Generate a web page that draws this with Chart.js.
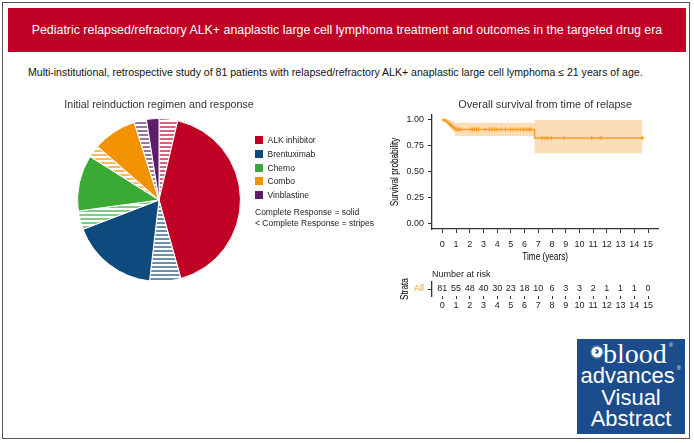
<!DOCTYPE html>
<html><head><meta charset="utf-8">
<script src="https://cdn.jsdelivr.net/npm/chart.js@4.4.1/dist/chart.umd.min.js"></script>
<style>
html,body{margin:0;padding:0;background:#fff;}
body{width:694px;height:443px;position:relative;overflow:hidden;font-family:'Liberation Sans',Arial,sans-serif;color:#222;}
.abs{position:absolute;white-space:nowrap;}
#frame{left:2px;top:2px;width:688px;height:437px;border:1.5px solid #555;box-sizing:border-box;}
#banner{left:8px;top:8px;width:678px;height:44px;background:#c10026;color:#fff;font-size:12.4px;display:flex;align-items:center;justify-content:center;}
#sub{left:28px;top:66px;font-size:10.55px;line-height:12px;color:#111;}
.sw{position:absolute;width:8px;height:8px;}
.lg{position:absolute;font-size:8.5px;line-height:10px;color:#222;}
#logo{left:577px;top:339px;width:108px;height:95px;background:#1c4c8c;}
.lt{position:absolute;color:#fff;line-height:1;white-space:nowrap;}
canvas{position:absolute;}
</style></head>
<body>
<div id="frame" class="abs"></div>
<div id="banner" class="abs">Pediatric relapsed/refractory ALK+ anaplastic large cell lymphoma treatment and outcomes in the targeted drug era</div>
<div id="sub" class="abs">Multi-institutional, retrospective study of 81 patients with relapsed/refractory ALK+ anaplastic large cell lymphoma ≤ 21 years of age.</div>

<canvas id="pie" width="240" height="196" style="left:39px;top:86px;"></canvas>
<div id="legend"></div>
<div class="lg" style="left:255px;top:207px;">Complete Response = solid</div>
<div class="lg" style="left:255px;top:217.7px;">&lt; Complete Response = stripes</div>

<canvas id="km" width="290" height="175" style="left:380px;top:90px;"></canvas>
<canvas id="risk" width="290" height="58" style="left:380px;top:262px;"></canvas>

<div id="logo" class="abs"></div>
<svg class="abs" style="left:590px;top:345px;" width="14" height="14" viewBox="0 0 14 14">
  <circle cx="7" cy="7" r="5.6" fill="#fff"/>
  <circle cx="7" cy="7" r="6.4" fill="none" stroke="#fff" stroke-width="0.6" stroke-dasharray="0.6 0.8"/>
  <path d="M5 4.5 C7 3.5 9.5 5 8.5 7.5 C7.5 9.5 5 9 4.8 7.2 C6 7.8 7.3 6.8 6.5 5.8 C6 5.2 5.4 5 5 4.5Z" fill="#1c4c8c"/>
</svg>
<div class="lt" style="left:603px;top:340px;font-family:'Liberation Serif','DejaVu Serif',serif;font-size:28px;">blood</div>
<div class="lt" style="left:669px;top:343px;font-size:5px;">®</div>
<div class="lt" style="left:580.5px;top:364.5px;font-size:22px;">advances</div>
<div class="lt" style="left:677px;top:366px;font-size:5px;">®</div>
<div class="lt" style="left:577px;width:108px;text-align:center;top:386.5px;font-size:22px;">Visual</div>
<div class="lt" style="left:577px;width:108px;text-align:center;top:407.5px;font-size:22px;">Abstract</div>

<script>
// ---------- DATA ----------
const regimens = ['ALK inhibitor', 'Brentuximab', 'Chemo', 'Combo', 'Vinblastine'];
const completeResponse = [34, 14, 9, 7, 2];      // solid
const lessThanComplete = [3, 5, 3, 2, 2];        // stripes

const kmTime  = [0, 0.25, 0.38, 0.50, 0.60, 0.70, 0.82, 0.92, 6.73, 14.6];
const kmSurv  = [1, 0.987, 0.974, 0.961, 0.948, 0.935, 0.922, 0.909, 0.826, 0.826];
const ciUpper = [1, 1.000, 1.000, 0.998, 0.994, 0.989, 0.982, 0.974, 1.000, 1.000];
const ciLower = [1, 0.962, 0.944, 0.927, 0.911, 0.896, 0.880, 0.846, 0.680, 0.680];

const censorTime = [0.12, 0.3, 0.55, 0.65, 0.78, 1.0, 1.09, 1.23, 1.35, 2.06, 2.2, 2.35, 2.49, 2.64, 3.12, 3.46, 3.65, 3.82, 3.99, 4.31, 4.62, 4.98, 5.15, 5.44, 5.69, 5.93, 6.15, 6.32, 6.44, 7.28, 7.5, 7.69, 7.94, 8.86, 10.89, 11.57, 14.59];
const censorSurv = [1, 0.987, 0.961, 0.948, 0.935, 0.909, 0.909, 0.909, 0.909, 0.909, 0.909, 0.909, 0.909, 0.909, 0.909, 0.909, 0.909, 0.909, 0.909, 0.909, 0.909, 0.909, 0.909, 0.909, 0.909, 0.909, 0.909, 0.909, 0.909, 0.826, 0.826, 0.826, 0.826, 0.826, 0.826, 0.826, 0.826];

const survTicks = [0, 0.25, 0.5, 0.75, 1];
const timeTicks = [0, 1, 2, 3, 4, 5, 6, 7, 8, 9, 10, 11, 12, 13, 14, 15];
const riskTimes = [0, 1, 2, 3, 4, 5, 6, 7, 8, 9, 10, 11, 12, 13, 14, 15];
const riskCounts = [81, 55, 48, 40, 30, 23, 18, 10, 6, 3, 3, 2, 1, 1, 1, 0];
const strata = ['All'];

// ---------- STYLE ----------
const regimenColors = ['#c10026', '#0f4a7e', '#3aaa35', '#f39200', '#5c1f67'];
const SANS = "'Liberation Sans', Arial, sans-serif";
const ORANGE = '#f59d2a';
const BAND = '#fddcb8';
const AX = '#333';
Chart.defaults.font.family = SANS;

function hexA(hex, a) {
  const r = parseInt(hex.slice(1,3),16), g = parseInt(hex.slice(3,5),16), b = parseInt(hex.slice(5,7),16);
  return `rgba(${r},${g},${b},${a})`;
}
function stripe(color) {
  const c = document.createElement('canvas'); c.width = 4; c.height = 4;
  const x = c.getContext('2d');
  x.fillStyle = '#fff'; x.fillRect(0,0,4,4);
  x.fillStyle = hexA(color, 0.62); x.fillRect(0,0,4,2);
  return x.createPattern(c, 'repeat');
}
// condensed text helper (ggplot-like narrow axis titles)
function narrowText(ctx, text, x, y, rot, size, squeeze) {
  ctx.save();
  ctx.translate(x, y);
  if (rot) ctx.rotate(rot);
  ctx.scale(squeeze, 1);
  ctx.font = size + 'px ' + SANS;
  ctx.fillStyle = '#000'; ctx.textAlign = 'center'; ctx.textBaseline = 'middle';
  ctx.fillText(text, 0, 0);
  ctx.restore();
}

// legend
const lgDiv = document.getElementById('legend');
const lgTops = [136, 150, 163.5, 177, 191];
regimens.forEach((r, i) => {
  const s = document.createElement('div'); s.className = 'sw';
  s.style.left = '255px'; s.style.top = lgTops[i] + 'px'; s.style.background = regimenColors[i];
  lgDiv.appendChild(s);
  const t = document.createElement('div'); t.className = 'lg'; t.textContent = r;
  t.style.left = '267.5px'; t.style.top = (lgTops[i] - 1) + 'px';
  lgDiv.appendChild(t);
});

// pie
const pieData = [], pieBg = [], pieLabels = [];
regimens.forEach((r, i) => {
  pieData.push(lessThanComplete[i]); pieBg.push(stripe(regimenColors[i])); pieLabels.push(r + ' (< CR)');
  pieData.push(completeResponse[i]); pieBg.push(regimenColors[i]); pieLabels.push(r + ' (CR)');
});
new Chart(document.getElementById('pie'), {
  type: 'pie',
  data: { labels: pieLabels, datasets: [{ data: pieData, backgroundColor: pieBg, borderColor: '#fff', borderWidth: 1 }] },
  options: {
    responsive: false, animation: false,
    plugins: {
      legend: { display: false }, tooltip: { enabled: false },
      title: { display: true, text: 'Initial reinduction regimen and response', color: '#333',
        font: { size: 10.7, weight: 'normal', family: SANS }, padding: { top: 13, bottom: 6.2 } }
    }
  }
});

// KM
const pts = (xs, ys) => xs.map((x, i) => ({ x: x, y: ys[i] }));
new Chart(document.getElementById('km'), {
  type: 'line',
  data: { datasets: [
    { data: pts(kmTime, ciUpper), stepped: true, borderWidth: 0, borderColor: 'rgba(0,0,0,0)', pointRadius: 0, fill: '+1', backgroundColor: BAND },
    { data: pts(kmTime, ciLower), stepped: true, borderWidth: 0, borderColor: 'rgba(0,0,0,0)', pointRadius: 0, fill: false },
    { data: pts(kmTime, kmSurv), stepped: true, borderWidth: 1.5, borderColor: ORANGE, pointRadius: 0, fill: false },
    { data: pts(censorTime, censorSurv), showLine: false, pointStyle: 'cross', pointRadius: 2.2, borderColor: ORANGE, pointBorderWidth: 1, fill: false }
  ]},
  options: {
    responsive: false, animation: false,
    layout: { padding: { top: 24.8, right: 11.7 } },
    plugins: {
      legend: { display: false }, tooltip: { enabled: false },
      filler: { drawTime: 'beforeDatasetsDraw' }
    },
    scales: {
      x: { type: 'linear', min: -0.75, max: 15.75,
        afterBuildTicks: s => { s.ticks = timeTicks.map(v => ({ value: v })); },
        afterFit: s => { s.height = 36; },
        border: { display: true, color: AX, width: 1.3 },
        grid: { display: true, drawOnChartArea: false, drawTicks: true, tickLength: 4, color: AX },
        ticks: { font: { size: 9 }, color: '#222', padding: 6, maxRotation: 0, autoSkip: false }
      },
      y: { min: -0.05, max: 1.05,
        afterBuildTicks: s => { s.ticks = survTicks.map(v => ({ value: v })); },
        afterFit: s => { s.width = 52; },
        border: { display: true, color: AX, width: 1.3 },
        grid: { display: true, drawOnChartArea: false, drawTicks: true, tickLength: 4, color: AX },
        ticks: { font: { size: 9 }, color: '#222', padding: 4, callback: v => Number(v).toFixed(2) }
      }
    }
  },
  plugins: [{ id: 'kmTitles', afterDraw(chart) {
    const ctx = chart.ctx, a = chart.chartArea, cx = (a.left + a.right) / 2;
    ctx.save();
    ctx.font = '10.9px ' + SANS; ctx.fillStyle = '#333'; ctx.textAlign = 'center'; ctx.textBaseline = 'middle';
    ctx.fillText('Overall survival from time of relapse', cx, 15);
    ctx.restore();
    narrowText(ctx, 'Time (years)', cx, 167, 0, 10.5, 0.78);
    narrowText(ctx, 'Survival probability', 15, (a.top + a.bottom) / 2, -Math.PI / 2, 10.5, 0.78);
  } }]
});

// risk table
new Chart(document.getElementById('risk'), {
  type: 'scatter',
  data: { datasets: [{ data: riskTimes.map(t => ({ x: t, y: strata[0] })), pointRadius: 0 }] },
  options: {
    responsive: false, animation: false,
    layout: { padding: { top: 20, right: 11.7 } },
    plugins: { legend: { display: false }, tooltip: { enabled: false } },
    scales: {
      x: { type: 'linear', min: -0.75, max: 15.75,
        afterBuildTicks: s => { s.ticks = riskTimes.map(v => ({ value: v })); },
        afterFit: s => { s.height = 24; },
        border: { display: false },
        grid: { display: true, drawOnChartArea: false, drawTicks: true, tickLength: 3, color: AX },
        ticks: { font: { size: 9 }, color: '#222', padding: 1, maxRotation: 0, autoSkip: false }
      },
      y: { type: 'category', labels: strata, offset: true,
        afterFit: s => { s.width = 52; },
        border: { display: true, color: AX, width: 1.3 },
        grid: { display: true, drawOnChartArea: false, drawTicks: true, tickLength: 4, color: AX },
        ticks: { font: { size: 9 }, color: ORANGE, padding: 4 }
      }
    }
  },
  plugins: [{ id: 'riskText', afterDatasetsDraw(chart) {
    const ctx = chart.ctx, meta = chart.getDatasetMeta(0), a = chart.chartArea;
    ctx.save();
    ctx.font = '9px ' + SANS; ctx.fillStyle = '#222'; ctx.textAlign = 'center'; ctx.textBaseline = 'middle';
    meta.data.forEach((el, i) => ctx.fillText(String(riskCounts[i]), el.x, el.y));
    ctx.textAlign = 'left';
    ctx.fillText('Number at risk', a.left, a.top - 7);
    ctx.restore();
    narrowText(ctx, 'Strata', 25, (a.top + a.bottom) / 2, -Math.PI / 2, 10.5, 0.78);
  } }]
});
</script>
</body></html>
